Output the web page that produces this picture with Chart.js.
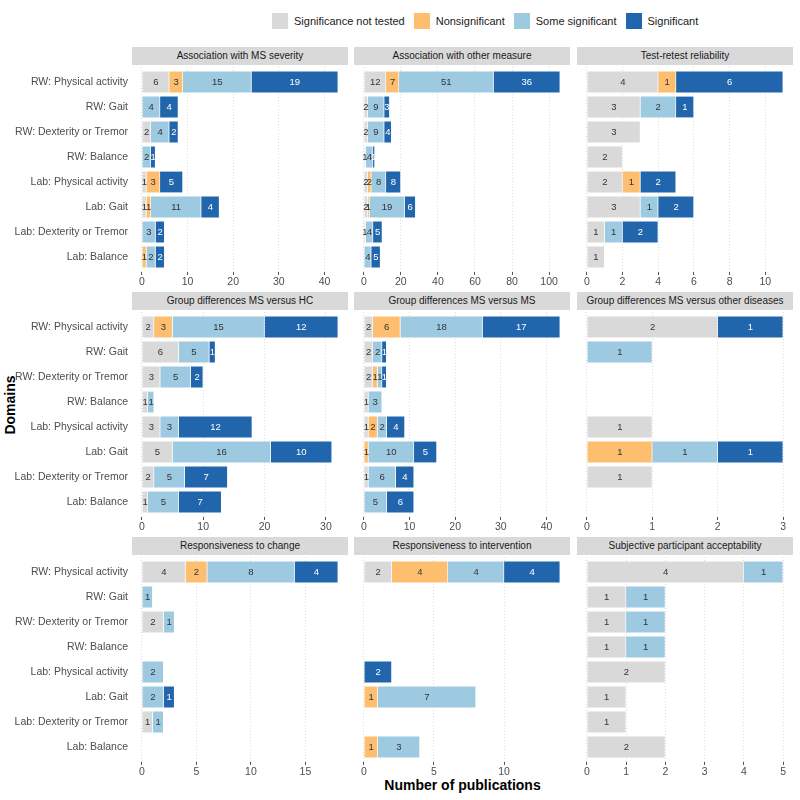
<!DOCTYPE html>
<html>
<head>
<meta charset="utf-8">
<script src="https://cdn.jsdelivr.net/npm/chart.js@4"></script>
<style>
html,body{margin:0;padding:0;background:#fff;width:800px;height:800px;overflow:hidden;font-family:"Liberation Sans",Arial,sans-serif;}
.strip{position:absolute;background:#d9d9d9;color:#1a1a1a;font-size:10px;text-align:center;line-height:18px;height:18px;white-space:nowrap;}
.pan{position:absolute;}
#legend{position:absolute;top:12px;left:272px;display:flex;align-items:center;height:17px;}
.li{display:flex;align-items:center;margin-right:9px;font-size:11px;color:#1a1a1a;}
.sw{width:16px;height:16px;margin-right:6px;}
#xtitle{position:absolute;left:132px;width:661px;top:777px;text-align:center;font-weight:bold;font-size:14px;color:#000;}
#ytitle{position:absolute;left:10px;top:405px;transform:translate(-50%,-50%) rotate(-90deg);font-weight:bold;font-size:14px;color:#000;white-space:nowrap;}
</style>
</head>
<body>
<div id="legend"></div>
<div id="ytitle">Domains</div>
<div id="xtitle">Number of publications</div>
<script>
// ---------------- data ----------------
const panelTitles = [
  "Association with MS severity",
  "Association with other measure",
  "Test-retest reliability",
  "Group differences MS versus HC",
  "Group differences MS versus MS",
  "Group differences MS versus other diseases",
  "Responsiveness to change",
  "Responsiveness to intervention",
  "Subjective participant acceptability"
];
const categories = [
  "RW: Physical activity", "RW: Gait", "RW: Dexterity or Tremor", "RW: Balance",
  "Lab: Physical activity", "Lab: Gait", "Lab: Dexterity or Tremor", "Lab: Balance"
];
const seriesNames = ["Significance not tested", "Nonsignificant", "Some significant", "Significant"];

// one row per panel, one value per category
const notTested = [
  [6, 0, 2, 0, 1, 1, 0, 0],
  [12, 2, 2, 1, 2, 2, 1, 0],
  [4, 3, 3, 2, 2, 3, 1, 1],
  [2, 6, 3, 1, 3, 5, 2, 1],
  [2, 2, 2, 1, 1, 0, 1, 0],
  [2, 0, 0, 0, 1, 0, 1, 0],
  [4, 0, 2, 0, 0, 0, 1, 0],
  [2, 0, 0, 0, 0, 0, 0, 0],
  [4, 1, 1, 1, 2, 1, 1, 2]
];
const nonsignificant = [
  [3, 0, 0, 0, 3, 1, 0, 1],
  [7, 0, 0, 0, 2, 1, 0, 0],
  [1, 0, 0, 0, 1, 0, 0, 0],
  [3, 0, 0, 0, 0, 0, 0, 0],
  [6, 0, 1, 0, 2, 1, 0, 0],
  [0, 0, 0, 0, 0, 1, 0, 0],
  [2, 0, 0, 0, 0, 0, 0, 0],
  [4, 0, 0, 0, 0, 1, 0, 1],
  [0, 0, 0, 0, 0, 0, 0, 0]
];
const someSignificant = [
  [15, 4, 4, 2, 0, 11, 3, 2],
  [51, 9, 9, 4, 8, 19, 4, 4],
  [0, 2, 0, 0, 0, 1, 1, 0],
  [15, 5, 5, 1, 3, 16, 5, 5],
  [18, 2, 1, 3, 2, 10, 6, 5],
  [0, 1, 0, 0, 0, 1, 0, 0],
  [8, 1, 1, 0, 2, 2, 1, 0],
  [4, 0, 0, 0, 0, 7, 0, 3],
  [1, 1, 1, 1, 0, 0, 0, 0]
];
const significant = [
  [19, 4, 2, 1, 5, 4, 2, 2],
  [36, 3, 4, 1, 8, 6, 5, 5],
  [6, 1, 0, 0, 2, 2, 2, 0],
  [12, 1, 2, 0, 12, 10, 7, 7],
  [17, 1, 1, 0, 4, 5, 4, 6],
  [1, 0, 0, 0, 0, 1, 0, 0],
  [4, 0, 0, 0, 0, 1, 0, 0],
  [4, 0, 0, 0, 2, 0, 0, 0],
  [0, 0, 0, 0, 0, 0, 0, 0]
];
const tickValues = [
  [0, 10, 20, 30, 40],
  [0, 20, 40, 60, 80, 100],
  [0, 2, 4, 6, 8, 10],
  [0, 10, 20, 30],
  [0, 10, 20, 30, 40],
  [0, 1, 2, 3],
  [0, 5, 10, 15],
  [0, 5, 10],
  [0, 1, 2, 3, 4, 5]
];

// ---------------- style / layout ----------------
const colors = ["#d9d9d9", "#fdbf6f", "#9ecae1", "#2166ac"];
const labelColors = ["#333333", "#333333", "#333333", "#ffffff"];
const FONT = '"Liberation Sans", Arial, sans-serif';
const colLeft = [132, 354, 577];
const panelW = 216;
const rowTop = [67, 312, 557];
const panelH = 205;
const axisH = 22;
const padTop = 14;

// legend
const legend = document.getElementById('legend');
seriesNames.forEach((n, i) => {
  const it = document.createElement('div'); it.className = 'li';
  const sw = document.createElement('div'); sw.className = 'sw'; sw.style.background = colors[i];
  const tx = document.createElement('span'); tx.textContent = n;
  it.appendChild(sw); it.appendChild(tx); legend.appendChild(it);
});

const valueLabels = {
  id: 'valueLabels',
  afterDatasetsDraw(chart) {
    const ctx = chart.ctx;
    ctx.save();
    ctx.font = '9.5px ' + FONT;
    ctx.textAlign = 'center';
    ctx.textBaseline = 'middle';
    chart.data.datasets.forEach((ds, di) => {
      const meta = chart.getDatasetMeta(di);
      meta.data.forEach((bar, j) => {
        const v = ds.data[j];
        if (!v) return;
        const p = bar.getProps(['x', 'y', 'base'], true);
        ctx.fillStyle = labelColors[di];
        ctx.fillText(String(v), (p.x + p.base) / 2, p.y + 0.5);
      });
    });
    ctx.restore();
  }
};

const seriesArrays = [notTested, nonsignificant, someSignificant, significant];

panelTitles.forEach((title, i) => {
  const r = Math.floor(i / 3), c = i % 3;
  // strip
  const st = document.createElement('div');
  st.className = 'strip';
  st.style.left = colLeft[c] + 'px';
  st.style.width = panelW + 'px';
  st.style.top = (rowTop[r] - 20) + 'px';
  st.textContent = title;
  document.body.appendChild(st);

  const leftPad = c === 0 ? 0 : 10;
  const cLeft = c === 0 ? 0 : colLeft[c] - leftPad;
  const yW = c === 0 ? colLeft[0] : 0;
  const cw = (c === 0 ? colLeft[0] : leftPad) + panelW + 6;
  const ch = padTop + panelH + axisH;
  const holder = document.createElement('div');
  holder.className = 'pan';
  holder.style.left = cLeft + 'px';
  holder.style.top = (rowTop[r] - padTop) + 'px';
  const cv = document.createElement('canvas');
  cv.width = cw; cv.height = ch;
  cv.style.width = cw + 'px'; cv.style.height = ch + 'px';
  holder.appendChild(cv);
  document.body.appendChild(holder);

  const totals = categories.map((_, j) => seriesArrays.reduce((s, a) => s + a[i][j], 0));
  const T = Math.max(...totals);
  const ticks = tickValues[i];

  new Chart(cv, {
    type: 'bar',
    data: {
      labels: categories,
      datasets: seriesNames.map((n, k) => ({
        label: n,
        data: seriesArrays[k][i].map(v => v === 0 ? null : v),
        backgroundColor: colors[k],
        borderColor: 'rgba(255,255,255,0.55)',
        borderWidth: 0.6,
        categoryPercentage: 0.88,
        barPercentage: 1
      }))
    },
    options: {
      indexAxis: 'y',
      responsive: false,
      animation: false,
      events: [],
      layout: { padding: { left: leftPad, right: 6, top: padTop, bottom: 0 } },
      plugins: { legend: { display: false }, tooltip: { enabled: false } },
      scales: {
        x: {
          type: 'linear',
          stacked: true,
          min: -0.05 * T,
          max: 1.05 * T,
          afterBuildTicks: s => { s.ticks = ticks.map(v => ({ value: v })); },
          afterFit: s => { s.height = axisH; },
          ticks: { color: '#4d4d4d', font: { family: FONT, size: 10.5 }, padding: 1, maxRotation: 0, autoSkip: false },
          grid: { color: '#dcdcdc', lineWidth: 1, drawTicks: true, tickLength: 3, tickColor: '#555555', tickWidth: 1, tickBorderDash: [] },
          border: { display: false, dash: [1, 2] }
        },
        y: {
          type: 'category',
          stacked: true,
          display: c === 0,
          afterBuildTicks: s => { s._startValue = -0.6; s._valueRange = 8.2; },
          afterFit: s => { s.width = yW; },
          ticks: { color: '#4d4d4d', font: { family: FONT, size: 10.5 }, padding: 4, autoSkip: false },
          grid: { display: false, drawTicks: false },
          border: { display: false }
        }
      }
    },
    plugins: [valueLabels]
  });
});
</script>
</body>
</html>
